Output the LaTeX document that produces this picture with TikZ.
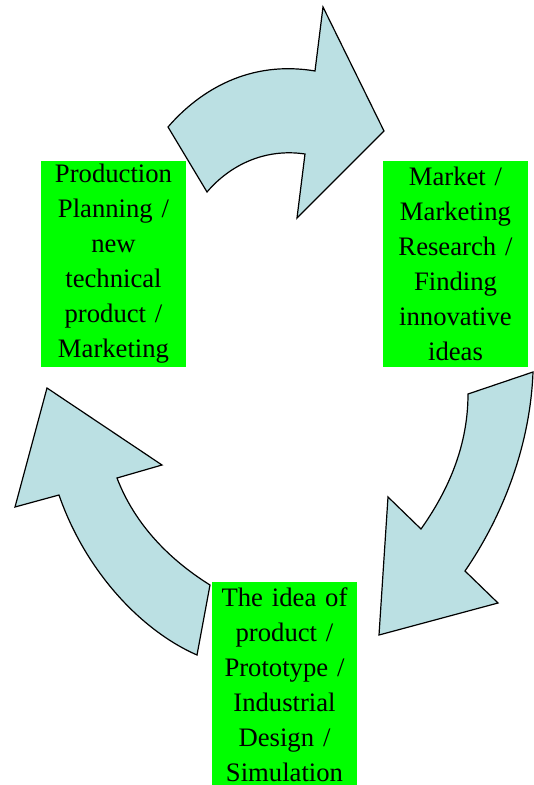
\documentclass[tikz,border=0pt]{standalone}
\usepackage{fontspec}
\setmainfont{Liberation Serif}
\usetikzlibrary{positioning}
\definecolor{stagegreen}{RGB}{0,255,0}
\definecolor{arrowblue}{RGB}{187,224,227}
\tikzstyle{stage}=[fill=stagegreen, text width=108.75pt, minimum
height=154.5pt, inner sep=0pt, align=center,
font=\fontsize{20}{26.25}\selectfont]
\tikzstyle{curvedarrow}=[draw=black, fill=arrowblue, line width=0.9pt,
  line join=miter]

\begin{document}
\begin{tikzpicture}[x=0.75pt, y=-0.75pt, on grid]
  \useasboundingbox (0,0) rectangle (533,785);

  % block arrows of the cycle
  \draw[curvedarrow] (168,127) .. controls (200,90) and (250,60) .. (315,71)
    -- (323,7) -- (384,131) -- (297,218) -- (305,154)
    .. controls (265,148) and (230,165) .. (207,192) -- cycle;
  \draw[curvedarrow] (533,372) .. controls (530,450) and (500,520) .. (465,571)
    -- (498,603) -- (379,635) -- (388,497) -- (421,529)
    .. controls (445,495) and (468,450) .. (468,394) -- cycle;
  \draw[curvedarrow] (197,655) .. controls (140,630) and (85,570) .. (59,495)
    -- (15,507) -- (47,388) -- (162,465) -- (117,478)
    .. controls (135,525) and (170,560) .. (210,585) -- cycle;

  \node[stage] (plan) at (113.5,264)
    {Production\\ Planning /\\ new\\ technical\\ product /\\ Marketing};
  \node[stage, right=256.5pt of plan] (market)
    {Market /\\ Marketing\\ Research /\\ Finding\\ innovative\\ ideas};
  \node[stage, below right=315.75pt and 128.25pt of plan] (idea)
    {The idea of\\ product /\\ Prototype /\\ Industrial\\ Design /\\ Simulation};
\end{tikzpicture}
\end{document}
